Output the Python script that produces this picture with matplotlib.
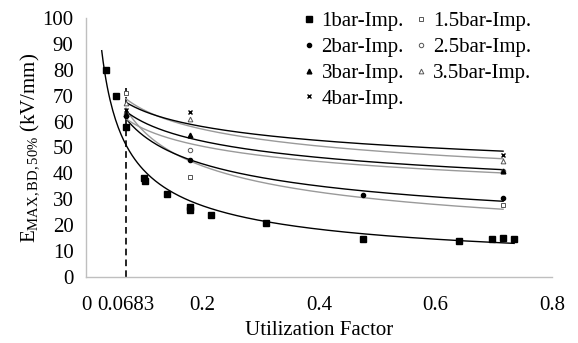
import numpy as np
import matplotlib
matplotlib.use("Agg")
import matplotlib.pyplot as plt

plt.rcParams['font.family'] = ['Liberation Serif', 'DejaVu Serif']
plt.rcParams['mathtext.fontset'] = 'custom'
plt.rcParams['mathtext.rm'] = 'Liberation Serif'
plt.rcParams['mathtext.it'] = 'Liberation Serif:italic'

# data
x_1bar = [0.0345, 0.052, 0.069, 0.100, 0.102, 0.139, 0.179, 0.179, 0.215, 0.309, 0.476, 0.640, 0.697, 0.716, 0.735]
y_1bar = [80.0, 70.0, 58.0, 38.2, 37.2, 32.0, 26.0, 27.0, 24.0, 20.8, 14.7, 13.9, 14.7, 14.9, 14.7]
x_15bar = [0.0683, 0.178, 0.716]
y_15bar = [71.0, 38.6, 27.8]
x_2bar = [0.0683, 0.178, 0.476, 0.716]
y_2bar = [62.0, 45.0, 31.7, 30.5]
x_25bar = [0.0683, 0.178, 0.716]
y_25bar = [63.0, 49.0, 41.0]
x_3bar = [0.0683, 0.178, 0.716]
y_3bar = [63.0, 55.0, 41.0]
x_35bar = [0.0683, 0.178, 0.716]
y_35bar = [67.0, 61.0, 44.8]
x_4bar = [0.0683, 0.178, 0.716]
y_4bar = [64.5, 63.7, 47.1]

labels = ['1bar-Imp.', '1.5bar-Imp.', '2bar-Imp.', '2.5bar-Imp.', '3bar-Imp.', '3.5bar-Imp.', '4bar-Imp.']
xticks = [0, 0.0683, 0.2, 0.4, 0.6, 0.8]
xticklabels = ['0', '0.0683', '0.2', '0.4', '0.6', '0.8']
yticks = [0, 10, 20, 30, 40, 50, 60, 70, 80, 90, 100]

series = [
    (x_1bar, y_1bar, dict(marker='s', ms=4.2, mfc='black', mec='black'), 'black', (0.027, 0.735)),
    (x_15bar, y_15bar, dict(marker='s', ms=3.2, mfc='white', mec='#555555', mew=0.7), '#9a9a9a', (0.0683, 0.716)),
    (x_2bar, y_2bar, dict(marker='o', ms=3.0, mfc='black', mec='black'), 'black', (0.0683, 0.716)),
    (x_25bar, y_25bar, dict(marker='o', ms=3.2, mfc='white', mec='#555555', mew=0.7), '#9a9a9a', (0.0683, 0.716)),
    (x_3bar, y_3bar, dict(marker='^', ms=3.4, mfc='black', mec='black'), 'black', (0.0683, 0.716)),
    (x_35bar, y_35bar, dict(marker='^', ms=3.4, mfc='white', mec='#555555', mew=0.7), '#9a9a9a', (0.0683, 0.716)),
    (x_4bar, y_4bar, dict(marker='x', ms=3.4, mec='black', mew=1.0), 'black', (0.0683, 0.716)),
]

fig = plt.figure(figsize=(5.78, 3.43), dpi=100)
ax = fig.add_axes([86/578, 1-277/343, (552-86)/578, (277-18)/343])

handles = []
for (xs, ys, mk, lc, rng), lab in zip(series, labels):
    xs = np.array(xs); ys = np.array(ys)
    b, a = np.polyfit(np.log(xs), np.log(ys), 1)
    xt = np.linspace(rng[0], rng[1], 300)
    ax.plot(xt, np.exp(a) * xt**b, color=lc, lw=1.0, zorder=2)
    h, = ax.plot(xs, ys, ls='none', label=lab, zorder=3, **mk)
    handles.append(h)

ax.plot([0.0683, 0.0683], [0, 73], ls=(0, (4, 2.5)), color='black', lw=1.2, zorder=1)

ax.set_xlim(0, 0.8)
ax.set_ylim(0, 100)
ax.set_xticks(xticks)
ax.set_xticklabels(xticklabels)
ax.set_yticks(yticks)
ax.tick_params(axis='both', length=0, labelsize=15)
ax.tick_params(axis='x', pad=14)
ax.tick_params(axis='y', pad=9)
for s in ['top', 'right']:
    ax.spines[s].set_visible(False)
for s in ['left', 'bottom']:
    ax.spines[s].set_color('#bfbfbf')
    ax.spines[s].set_linewidth(1.0)

ax.set_xlabel('Utilization Factor', fontsize=15, labelpad=4)
ax.set_ylabel(r'E$_{\mathrm{MAX,BD,50\%}}$ (kV/mm)', fontsize=15, labelpad=1)

order = [0, 2, 4, 6, 1, 3, 5]
ax.legend([handles[i] for i in order], [labels[i] for i in order],
          ncol=2, frameon=False, loc='upper left', bbox_to_anchor=(0.445, 1.065),
          fontsize=15, handlelength=0.5, handletextpad=0.35, columnspacing=0.55,
          labelspacing=0.3, borderpad=0.0)

fig.savefig('out.png', dpi=100)
